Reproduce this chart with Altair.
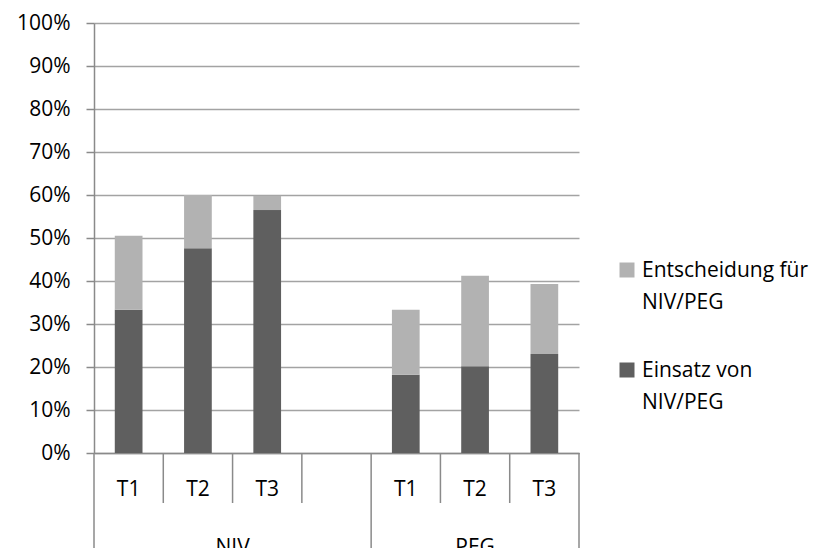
import altair as alt
import pandas as pd

# Category slots on the x axis: group|time point (the empty slot separates NIV and PEG)
slots = ["NIV|T1", "NIV|T2", "NIV|T3", "NIV|", "PEG|T1", "PEG|T2", "PEG|T3"]
bar_slots = ["NIV|T1", "NIV|T2", "NIV|T3", "PEG|T1", "PEG|T2", "PEG|T3"]

# Shares in percent
einsatz = [33.3, 47.6, 56.5, 18.2, 20.2, 23.0]          # Einsatz von NIV/PEG
entscheidung = [17.2, 12.4, 3.3, 15.1, 21.0, 16.3]      # Entscheidung für NIV/PEG (stacked on top)

series_names = ["Entscheidung für NIV/PEG", "Einsatz von NIV/PEG"]
series_lines = [["Entscheidung für", "NIV/PEG"], ["Einsatz von", "NIV/PEG"]]
series_colors = ["#b2b2b2", "#5f5f5f"]

groups = ["NIV", "PEG"]
y_ticks = [i / 10 for i in range(11)]

FONT = "Open Sans"
FS = 21
TEXT = "#000000"
AXIS_GRAY = "#8a8a8a"
GRID_GRAY = "#a3a3a3"

rows = []
for s, a, b in zip(bar_slots, einsatz, entscheidung):
    rows.append({"slot": s, "series": series_names[1], "value": a / 100, "ord": 0})
    rows.append({"slot": s, "series": series_names[0], "value": b / 100, "ord": 1})
df = pd.DataFrame(rows)

x_scale = alt.Scale(domain=slots, paddingInner=0, paddingOuter=0)
color_scale = alt.Scale(domain=series_names, range=series_colors)

bars = alt.Chart(df).mark_bar(width={"band": 0.4}).encode(
    x=alt.X(
        "slot:N",
        scale=x_scale,
        sort=slots,
        axis=alt.Axis(
            title=None,
            labelExpr="split(datum.value, '|')[1]",
            labelAngle=0,
            ticks=False,
            grid=False,
            domainColor=AXIS_GRAY,
            domainWidth=1.5,
            labelFont=FONT,
            labelFontSize=FS,
            labelColor=TEXT,
            labelBaseline="middle",
            labelPadding=36,
        ),
    ),
    y=alt.Y(
        "value:Q",
        stack="zero",
        scale=alt.Scale(domain=[0, 1], nice=False),
        axis=alt.Axis(
            title=None,
            format=".0%",
            values=y_ticks,
            grid=True,
            gridColor=GRID_GRAY,
            gridWidth=1.5,
            tickColor=AXIS_GRAY,
            tickWidth=1.5,
            tickSize=8,
            domainColor=AXIS_GRAY,
            domainWidth=1.5,
            labelFont=FONT,
            labelFontSize=FS,
            labelColor=TEXT,
            labelPadding=16,
        ),
    ),
    color=alt.Color("series:N", scale=color_scale, legend=None),
    order=alt.Order("ord:Q"),
)

# Category separators below the x axis
inner_df = pd.DataFrame({"slot": ["NIV|T2", "NIV|T3", "NIV|", "PEG|T2", "PEG|T3"]})
outer_df = pd.DataFrame({"slot": ["NIV|T1", "PEG|T1"]})
end_df = pd.DataFrame({"slot": ["PEG|T3"]})

inner_rules = alt.Chart(inner_df).mark_rule(color=AXIS_GRAY, strokeWidth=1.5).encode(
    x=alt.X("slot:N", scale=x_scale, bandPosition=0),
    y=alt.value(430),
    y2=alt.value(480),
)
outer_rules = alt.Chart(outer_df).mark_rule(color=AXIS_GRAY, strokeWidth=1.5).encode(
    x=alt.X("slot:N", scale=x_scale, bandPosition=0),
    y=alt.value(430),
    y2=alt.value(530),
)
end_rule = alt.Chart(end_df).mark_rule(color=AXIS_GRAY, strokeWidth=1.5).encode(
    x=alt.X("slot:N", scale=x_scale, bandPosition=1),
    y=alt.value(430),
    y2=alt.value(530),
)

# Group labels (NIV spans four slots, PEG three)
group_df = pd.DataFrame({"group": groups, "slot": ["NIV|T3", "PEG|T2"]})
niv_label = alt.Chart(group_df).transform_filter("datum.group == 'NIV'").mark_text(
    font=FONT, fontSize=FS, color=TEXT, baseline="alphabetic"
).encode(
    x=alt.X("slot:N", scale=x_scale, bandPosition=0),
    y=alt.value(531),
    text="group:N",
)
peg_label = alt.Chart(group_df).transform_filter("datum.group == 'PEG'").mark_text(
    font=FONT, fontSize=FS, color=TEXT, baseline="alphabetic"
).encode(
    x=alt.X("slot:N", scale=x_scale, bandPosition=0.5),
    y=alt.value(531),
    text="group:N",
)

# Legend drawn beside the plot
legend_df = pd.DataFrame({"series": series_names, "lines": series_lines})
legend_layers = []
for i, name in enumerate(series_names):
    y_sym = 247 + 100 * i
    sub = alt.Chart(legend_df).transform_filter(alt.datum.series == name)
    legend_layers.append(
        sub.mark_square(size=225, opacity=1).encode(
            x=alt.value(533),
            y=alt.value(y_sym),
            color=alt.Color("series:N", scale=color_scale, legend=None),
        )
    )
    legend_layers.append(
        sub.mark_text(
            font=FONT, fontSize=FS, color=TEXT, align="left", baseline="top", lineHeight=32
        ).encode(
            x=alt.value(548),
            y=alt.value(y_sym - 10),
            text="lines",
        )
    )

chart = alt.layer(
    bars, inner_rules, outer_rules, end_rule, niv_label, peg_label, *legend_layers
).properties(
    width=485,
    height=430,
    autosize=alt.AutoSizeParams(type="none"),
    padding={"left": 94, "top": 23, "right": 246, "bottom": 95},
    background="white",
).configure_view(stroke=None)

chart.save("out.html", embed_options={"renderer": "svg", "actions": False})
